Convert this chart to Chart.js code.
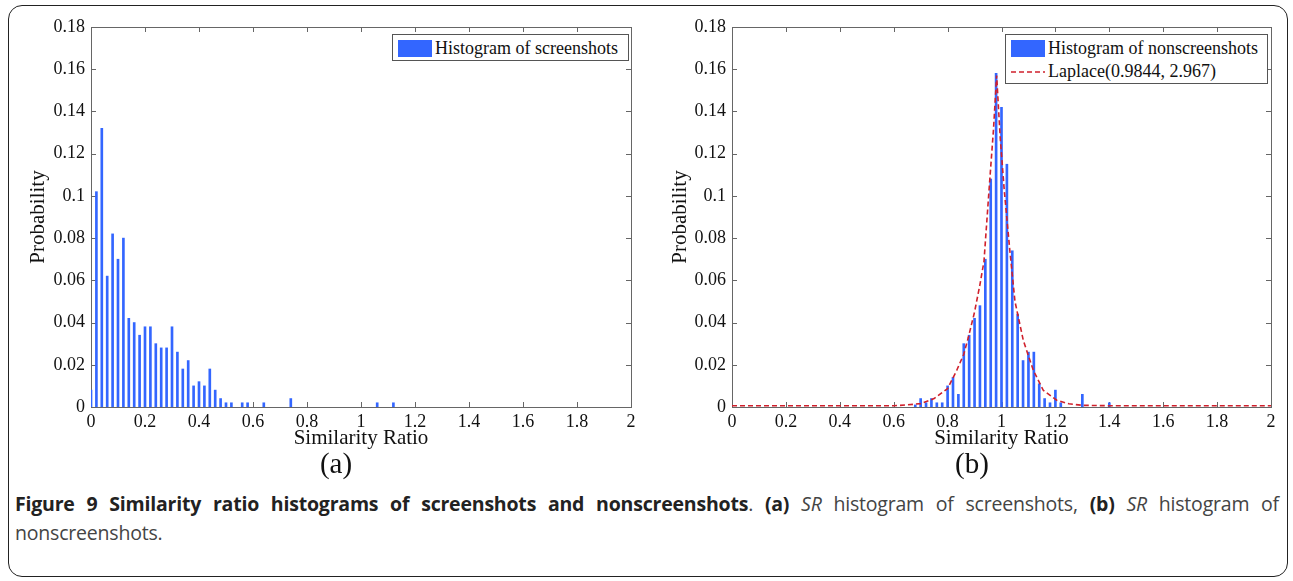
<!DOCTYPE html>
<html>
<head>
<meta charset="utf-8">
<title>Figure 9</title>
<script src="https://cdn.jsdelivr.net/npm/chart.js@4.4.1/dist/chart.umd.min.js"></script>
<style>
  html, body { margin: 0; padding: 0; background: #fff; }
  #page { position: relative; width: 1293px; height: 581px; overflow: hidden; }
  #frame { position: absolute; left: 8px; top: 5px; width: 1280px; height: 572px;
           border: 1.5px solid #222; border-radius: 14px; box-sizing: border-box; }
  .chartBox { position: absolute; top: 0; }
  .legend { position: absolute; border: 1px solid #555; background: #fff;
            font-family: "Liberation Serif", serif; font-size: 18px; color: #111; box-sizing: border-box; }
  .legend .row { position: absolute; left: 0; white-space: nowrap; height: 22px; line-height: 22px; }
  .legend .patch { position: absolute; left: 5px; top: 3px; width: 34px; height: 17px; background: #3366ff; }
  .legend .txt { position: absolute; left: 42px; top: 0; }
  .sub { position: absolute; font-family: "Liberation Serif", serif; font-size: 29px; color: #111;
         transform: translate(-50%, -50%); }
  #caption { position: absolute; left: 15px; width: 1264px; top: 489px;
             font-family: "Open Sans", sans-serif; font-size: 19.5px; color: #444; line-height: 29px;
             letter-spacing: -0.2px; }
  #caption .l1 { text-align: justify; text-align-last: justify; white-space: nowrap; }
  #caption b { color: #222; }
</style>
</head>
<body>
<div id="page">
  <div id="frame"></div>
  <div class="chartBox" style="left:0"><canvas id="chartA" width="650" height="450"></canvas></div>
  <div class="chartBox" style="left:650px"><canvas id="chartB" width="643" height="450"></canvas></div>

  <div class="legend" style="left:392px; top:34px; width:237px; height:27px;">
    <div class="row" style="top:2px"><span class="patch"></span><span class="txt">Histogram of screenshots</span></div>
  </div>
  <div class="legend" style="left:1005px; top:34px; width:263px; height:50px;">
    <div class="row" style="top:2px"><span class="patch"></span><span class="txt">Histogram of nonscreenshots</span></div>
    <div class="row" style="top:25px">
      <svg style="position:absolute; left:5px; top:10px" width="34" height="4"><line x1="0" y1="2" x2="34" y2="2" stroke="#d0202c" stroke-width="1.6" stroke-dasharray="5,3"/></svg>
      <span class="txt">Laplace(0.9844, 2.967)</span>
    </div>
  </div>

  <div class="sub" style="left:336px; top:463px;">(a)</div>
  <div class="sub" style="left:972px; top:463px;">(b)</div>

  <div id="caption">
    <div class="l1"><b>Figure 9 Similarity ratio histograms of screenshots and nonscreenshots</b>. <b>(a)</b> <i>SR</i> histogram of screenshots, <b>(b)</b> <i>SR</i> histogram of</div>
    <div>nonscreenshots.</div>
  </div>
</div>

<script>
// histogram of screenshots: bin centres and probabilities
const binA = [0, 0.02, 0.04, 0.06, 0.08, 0.10, 0.12, 0.14, 0.16, 0.18, 0.20, 0.22, 0.24, 0.26, 0.28,
  0.30, 0.32, 0.34, 0.36, 0.38, 0.40, 0.42, 0.44, 0.46, 0.48, 0.50, 0.52, 0.56, 0.58, 0.64, 0.74, 1.06, 1.12];
const probA = [0.008, 0.102, 0.132, 0.062, 0.082, 0.070, 0.080, 0.042, 0.040, 0.034, 0.038, 0.038, 0.030, 0.028, 0.028,
  0.038, 0.026, 0.018, 0.022, 0.010, 0.012, 0.010, 0.018, 0.008, 0.004, 0.002, 0.002, 0.002, 0.002, 0.002, 0.004, 0.002, 0.002];

// histogram of nonscreenshots
const binB = [0.68, 0.70, 0.72, 0.74, 0.76, 0.78, 0.80, 0.82, 0.84, 0.86, 0.88, 0.90, 0.92, 0.94, 0.96, 0.98,
  1.00, 1.02, 1.04, 1.06, 1.08, 1.10, 1.12, 1.14, 1.16, 1.18, 1.20, 1.22, 1.30, 1.40];
const probB = [0.001, 0.004, 0.002, 0.004, 0.002, 0.002, 0.010, 0.014, 0.006, 0.030, 0.034, 0.042, 0.048, 0.070, 0.108, 0.158,
  0.142, 0.115, 0.074, 0.044, 0.022, 0.026, 0.026, 0.011, 0.004, 0.002, 0.008, 0.002, 0.006, 0.002];

// fitted Laplace curve
const lapX = [0, 0.6, 0.65, 0.7, 0.75, 0.8, 0.834, 0.86, 0.877, 0.9, 0.92, 0.935, 0.955, 0.97, 0.982,
  0.995, 1.01, 1.031, 1.05, 1.081, 1.118, 1.155, 1.205, 1.25, 1.3, 1.4, 2];
const lapY = [0.0006, 0.0006, 0.001, 0.0016, 0.004, 0.0087, 0.0174, 0.025, 0.033, 0.045, 0.058, 0.069, 0.105, 0.131, 0.157,
  0.128, 0.103, 0.074, 0.05, 0.0315, 0.0174, 0.0079, 0.0032, 0.0015, 0.0008, 0.0006, 0.0006];

const xTickLabels = ['0', '0.2', '0.4', '0.6', '0.8', '1', '1.2', '1.4', '1.6', '1.8', '2'];
const yTickLabels = ['0', '0.02', '0.04', '0.06', '0.08', '0.1', '0.12', '0.14', '0.16', '0.18'];

const barBlue = '#3366ff';
const axisGray = '#666';

Chart.defaults.font.family = '"Liberation Serif", "Times New Roman", serif';
Chart.defaults.font.size = 18;
Chart.defaults.color = '#111';

// matlab style box with inward ticks on all four sides
const matlabBox = {
  id: 'matlabBox',
  beforeDatasetsDraw(chart) {
    const { ctx, chartArea: a, scales: { x, y } } = chart;
    ctx.save();
    ctx.strokeStyle = axisGray;
    ctx.lineWidth = 1;
    ctx.strokeRect(Math.round(a.left) + 0.5, Math.round(a.top) + 0.5,
      Math.round(a.right - a.left), Math.round(a.bottom - a.top));
    ctx.beginPath();
    x.ticks.forEach(t => {
      const px = Math.round(x.getPixelForValue(t.value)) + 0.5;
      ctx.moveTo(px, a.bottom); ctx.lineTo(px, a.bottom - 5);
      ctx.moveTo(px, a.top); ctx.lineTo(px, a.top + 5);
    });
    y.ticks.forEach(t => {
      const py = Math.round(y.getPixelForValue(t.value)) + 0.5;
      ctx.moveTo(a.left, py); ctx.lineTo(a.left + 5, py);
      ctx.moveTo(a.right, py); ctx.lineTo(a.right - 5, py);
    });
    ctx.stroke();
    ctx.restore();
  }
};

function makeOptions(yAxisWidth, titlePad, rightPad) {
  return {
    responsive: false,
    animation: false,
    layout: { padding: { top: 27, right: rightPad, bottom: 0, left: 0 } },
    plugins: { legend: { display: false }, tooltip: { enabled: false } },
    scales: {
      x: {
        type: 'linear', min: 0, max: 2, offset: false,
        grid: { display: false, drawTicks: false },
        border: { display: false },
        ticks: { stepSize: 0.2, padding: 4, maxRotation: 0,
                 callback: (v, i) => xTickLabels[i] },
        title: { display: true, text: 'Similarity Ratio', font: { size: 21, lineHeight: 1 }, padding: { top: 0, bottom: 1 } },
        afterFit: s => { s.height = 43; }
      },
      y: {
        min: 0, max: 0.18,
        grid: { display: false, drawTicks: false },
        border: { display: false },
        ticks: { stepSize: 0.02, padding: 6, callback: (v, i) => yTickLabels[i] },
        title: { display: true, text: 'Probability', font: { size: 21, lineHeight: 1 }, padding: { top: titlePad, bottom: 0 } },
        afterFit: s => { s.width = yAxisWidth; }
      }
    }
  };
}

const barsA = binA.map((b, i) => ({ x: b, y: probA[i] }));
const barsB = binB.map((b, i) => ({ x: b, y: probB[i] }));
const lapPts = lapX.map((v, i) => ({ x: v, y: lapY[i] }));

new Chart(document.getElementById('chartA'), {
  type: 'bar',
  data: {
    datasets: [{
      label: 'Histogram of screenshots',
      data: barsA,
      backgroundColor: barBlue,
      barThickness: 2,
      order: 1
    }]
  },
  options: makeOptions(91, 27.5, 19),
  plugins: [matlabBox]
});

new Chart(document.getElementById('chartB'), {
  type: 'bar',
  data: {
    datasets: [{
      type: 'line',
      label: 'Laplace(0.9844, 2.967)',
      data: lapPts,
      borderColor: '#d0202c',
      borderWidth: 1.6,
      borderDash: [5, 3],
      pointRadius: 0,
      fill: false,
      tension: 0,
      order: 0
    }, {
      label: 'Histogram of nonscreenshots',
      data: barsB,
      backgroundColor: barBlue,
      barThickness: 2,
      order: 1
    }]
  },
  options: makeOptions(82, 19.5, 22),
  plugins: [matlabBox]
});
</script>
</body>
</html>
